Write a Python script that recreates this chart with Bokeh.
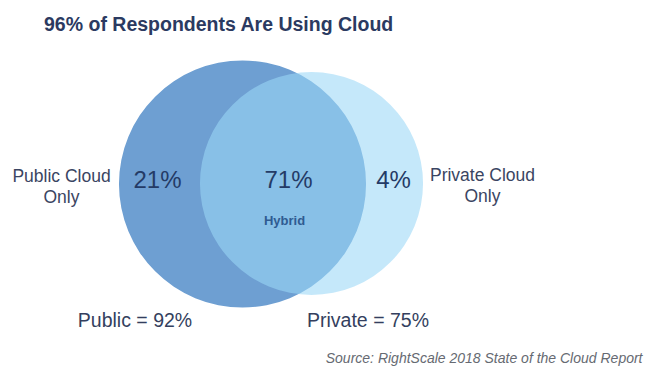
import math
from bokeh.plotting import figure
from bokeh.models import Range1d
from bokeh.core.properties import value
from bokeh.embed import file_html
from bokeh.resources import INLINE

# ---- data ----
title_text = "96% of Respondents Are Using Cloud"
set_names = ["Public", "Private"]
set_totals = [92, 75]                      # % of respondents
region_labels = ["21%", "71%", "4%"]       # public only, hybrid, private only
region_values = [21, 71, 4]
side_labels = ["Public Cloud\nOnly", "Private Cloud\nOnly"]
hybrid_label = "Hybrid"
source_text = "Source: RightScale 2018 State of the Cloud Report"

# ---- layout ----
W, H = 646, 372
p = figure(width=W, height=H, output_backend="svg", toolbar_location=None,
           x_range=Range1d(0, W), y_range=Range1d(H, 0), min_border=0)
p.axis.visible = False
p.grid.visible = False
p.outline_line_color = None
p.background_fill_color = "white"
p.border_fill_color = "white"

k = 12.88  # pixels per sqrt(percent)
radii = [k * math.sqrt(v) for v in set_totals]
cx = [242, 311]
cy = [183.5, 183]

p.circle(x=[cx[0]], y=[cy[0]], radius=[radii[0]], fill_color="#6e9fd2",
         line_color=None)
p.circle(x=[cx[1]], y=[cy[1]], radius=[radii[1]], fill_color="#9bd7f6",
         fill_alpha=0.58, line_color=None)

font = value("Liberation Sans")
navy = "#243b66"

p.text(x=[218.5], y=[23], text=[title_text], text_font=font, text_font_size="19.5px",
       text_font_style="bold", text_color="#2b3a61", text_align="center",
       text_baseline="middle")

p.text(x=[157, 288, 393], y=[178.5, 178.5, 178.5], text=region_labels, text_font=font,
       text_font_size="24px", text_color=navy, text_align="center",
       text_baseline="middle")

p.text(x=[284], y=[220], text=[hybrid_label], text_font=font,
       text_font_size="13px", text_font_style="bold", text_color="#2f5b92",
       text_align="center", text_baseline="middle")

p.text(x=[61, 482], y=[185.5, 184.5], text=side_labels, text_font=font,
       text_font_size="17.5px", text_color="#3a4562", text_align="center",
       text_baseline="middle", text_line_height=1.05)

p.text(x=[134.5, 367.5], y=[319, 319],
       text=[f"{n} = {v}%" for n, v in zip(set_names, set_totals)],
       text_font=font, text_font_size="19.5px", text_color="#343f5e",
       text_align="center", text_baseline="middle")

p.text(x=[642], y=[357], text=[source_text], text_font=font,
       text_font_size="14px", text_font_style="italic", text_color="#666a72",
       text_align="right", text_baseline="middle")

open("out.html", "w").write(file_html(p, INLINE))
